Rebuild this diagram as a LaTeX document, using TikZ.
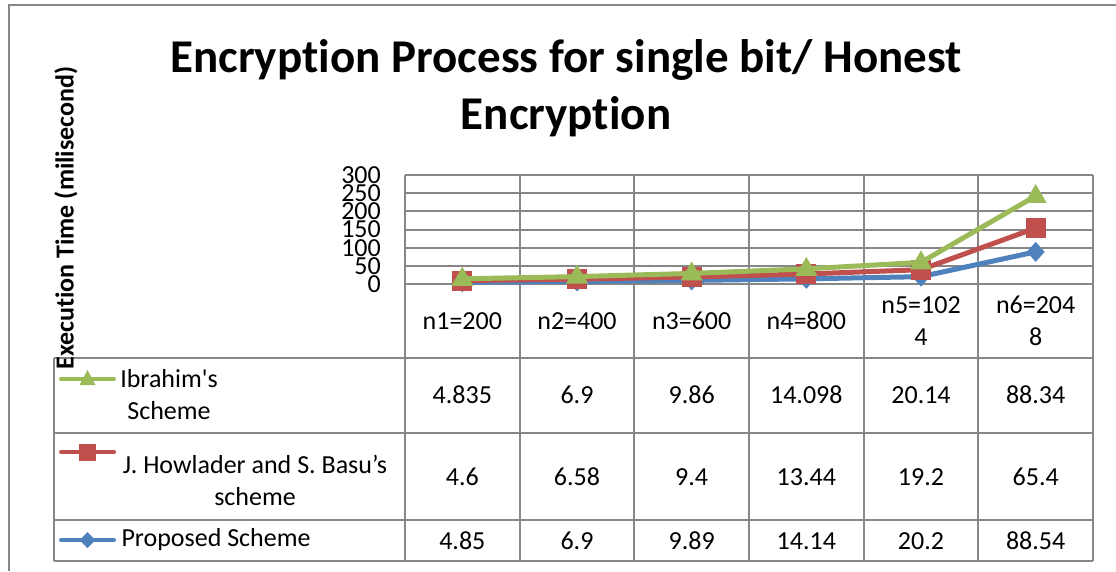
\documentclass[tikz,border=0pt]{standalone}
\usepackage{fontspec}
\setmainfont{Carlito}[Ligatures={NoCommon}]
\definecolor{grn}{HTML}{9BBB59}
\definecolor{rd}{HTML}{C0504D}
\definecolor{blu}{HTML}{4F81BD}
\definecolor{grd}{HTML}{878787}
\begin{document}
\begin{tikzpicture}[x=1pt, y=-1pt, font=\fontsize{26}{32}\selectfont,
  rule/.style={grd, line width=2pt},
  ser/.style={line width=5pt, line cap=round, line join=round},
  keyline/.style={line width=4pt, line cap=round}]
\useasboundingbox (0,0) rectangle (1116,571);
% outer frame
\draw[rule] (8.5,571)--(8.5,4.5)--(1116,4.5);
\node (title) at (566,88)[align=center, font=\bfseries\fontsize{47}{57}\selectfont]{Encryption Process for single bit/ Honest\\Encryption};
% grid and ticks
\foreach \v in {0,50,...,300}{
  \draw[rule] (405,{284-0.3633*\v})--(1093,{284-0.3633*\v});
  \node (tick\v) at (381,{284-0.3633*\v})[anchor=east, inner sep=0pt]{\v};
}
% table
\foreach \y in {358,433,520,561} \draw[rule] (54,\y)--(1093,\y);
\draw[rule] (54,358)--(54,561);
\foreach \k in {0,...,6} \draw[rule] ({405+114.67*\k},175)--({405+114.67*\k},561);
\draw[rule] (405,175)--(405,284);
\foreach \i/\hd/\g/\r/\b in {1/n1=200/4.835/4.6/4.85, 2/n2=400/6.9/6.58/6.9,
    3/n3=600/9.86/9.4/9.89, 4/n4=800/14.098/13.44/14.14,
    5/{n5=102\\4}/20.14/19.2/20.2, 6/{n6=204\\8}/88.34/65.4/88.54}{
  \node (head\i) at ({405+114.67*(\i-0.5)},321)[align=center]{\hd};
  \node (ib\i) at ({405+114.67*(\i-0.5)},395){\g};
  \node (ho\i) at ({405+114.67*(\i-0.5)},477){\r};
  \node (pr\i) at ({405+114.67*(\i-0.5)},541){\b};
  % stacked points
  \coordinate (b\i) at ({405+114.67*(\i-0.5)},{284-0.3633*\b});
  \coordinate (r\i) at ({405+114.67*(\i-0.5)},{284-0.3633*(\b+\r)});
  \coordinate (g\i) at ({405+114.67*(\i-0.5)},{284-0.3633*(\b+\r+\g)});
}
% series
\draw[ser, blu] (b1)--(b2)--(b3)--(b4)--(b5)--(b6);
\foreach \i in {1,...,6} \fill[blu] (b\i) ++(-9,0)--++(9,-10)--++(9,10)--++(-9,10)--cycle;
\draw[ser, rd] (r1)--(r2)--(r3)--(r4)--(r5)--(r6);
\foreach \i in {1,...,6} \fill[rd] (r\i) ++(-10,-10) rectangle ++(20,20);
\draw[ser, grn] (g1)--(g2)--(g3)--(g4)--(g5)--(g6);
\foreach \i in {1,...,6} \fill[grn] (g\i) ++(-11,7)--++(22,0)--++(-11,-19)--cycle;
% legend
\coordinate (ka) at (61,379); \coordinate (kb) at (114,379);
\draw[keyline, grn] (ka)--(kb);
\fill[grn] (87.5,379) ++(-8,6)--++(16,0)--++(-8,-15)--cycle;
\node (ibname) at (169,395)[align=center]{Ibrahim\textquotesingle s\\Scheme};
\coordinate (kc) at (61,452); \coordinate (kd) at (114,452);
\draw[keyline, rd] (kc)--(kd);
\fill[rd] (87.5,452) ++(-8.5,-8.5) rectangle ++(17,17);
\node (honame) at (255,480)[align=center]{J. Howlader and S. Basu’s\\scheme};
\coordinate (ke) at (61,540); \coordinate (kf) at (114,540);
\draw[keyline, blu] (ke)--(kf);
\fill[blu] (87.5,540) ++(-8,0)--++(8,-8)--++(8,8)--++(-8,8)--cycle;
\node (prname) at (118,540)[anchor=west]{Proposed Scheme};
\node (ylab) at (66,218)[rotate=90, font=\bfseries\fontsize{26}{32}\selectfont]{Execution Time (milisecond)};
\end{tikzpicture}
\end{document}
